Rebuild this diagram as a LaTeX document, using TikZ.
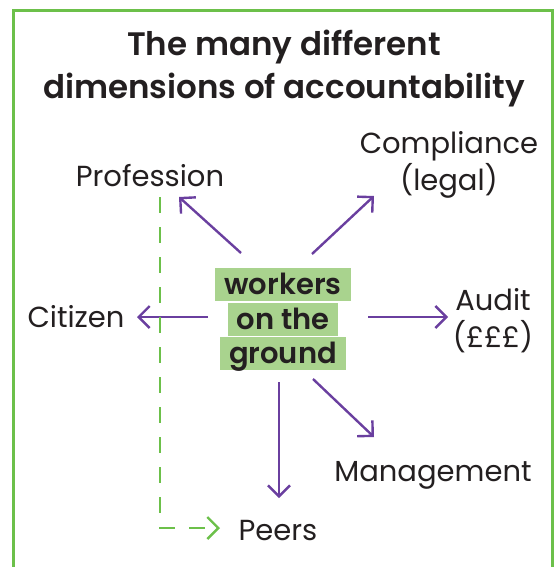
\documentclass[tikz,border=0pt]{standalone}
\usepackage{fontspec}
\setmainfont{Poppins}
\newfontfamily\headfont{Poppins SemiBold}
\usetikzlibrary{arrows.meta}
\definecolor{framegreen}{HTML}{6CC04A}
\definecolor{boxgreen}{HTML}{A9D38E}
\definecolor{arrowpurple}{HTML}{6A3F9F}
\definecolor{inkblack}{HTML}{231F20}
\begin{document}
\begin{tikzpicture}[x=1pt,y=-1pt,
  frame/.style={draw=framegreen,line width=2.6pt},
  title/.style={font=\fontsize{32.5}{38}\selectfont\headfont,text=inkblack,anchor=base,inner sep=0pt},
  label/.style={font=\fontsize{29}{34}\selectfont,text=inkblack,anchor=base,inner sep=0pt},
  corebox/.style={fill=boxgreen,font=\fontsize{29}{32}\selectfont\headfont,text=inkblack,
    anchor=base,inner xsep=9pt,inner ysep=0pt,text height=26pt,text depth=7pt},
  arr/.style={draw=arrowpurple,line width=2.4pt,-{Straight Barb[length=11pt,width=22pt,line width=2.4pt]}},
  peerlink/.style={draw=framegreen,line width=2.4pt,dash pattern=on 16pt off 14pt,
    -{Straight Barb[length=11pt,width=22pt,line width=2.4pt]}}]
\useasboundingbox (0,0) rectangle (555,567);
% open green frame, its lower edge runs off the page
\draw[frame] (13.5,600) -- (13.5,10.5) -- (552.5,10.5) -- (552.5,600);

% title
\node[title] (t1) at (284,56) {The many different};
\node[title] (t2) at (284,99) {dimensions of accountability};

% centre block
\node[corebox] (workers) at (283,294) {workers};
\node[corebox] (onthe) at (283,329) {on the};
\node[corebox] (ground) at (283,363) {ground};

% outer labels
\node[label] (prof) at (150,186) {Profession};
\node[label] (compl) at (449,153) {Compliance};
\node[label] (legal) at (449,190) {(legal)};
\node[label] (citizen) at (76,327) {Citizen};
\node[label] (audit) at (493,310) {Audit};
\node[label] (money) at (493,347) {(£££)};
\node[label] (mgmt) at (433,481) {Management};
\node[label] (peers) at (278,540) {Peers};

% arrow end points
\coordinate (profS) at (241,253);  \coordinate (profE) at (179,197);
\coordinate (complS) at (312,254); \coordinate (complE) at (374,196);
\coordinate (citS) at (208,317);   \coordinate (citE) at (137,317);
\coordinate (audS) at (368,317);   \coordinate (audE) at (448,317);
\coordinate (mgmtS) at (313,379);  \coordinate (mgmtE) at (374,437);
\coordinate (peerS) at (279,382);  \coordinate (peerE) at (279,498);
\coordinate (dashS) at (160,197);  \coordinate (dashC) at (160,528);
\coordinate (dashE) at (220,528);

\draw[arr] (profS) -- (profE);
\draw[arr] (complS) -- (complE);
\draw[arr] (citS) -- (citE);
\draw[arr] (audS) -- (audE);
\draw[arr] (mgmtS) -- (mgmtE);
\draw[arr] (peerS) -- (peerE);
\draw[peerlink] (dashS) -- (dashC) -- (dashE);
\end{tikzpicture}
\end{document}
